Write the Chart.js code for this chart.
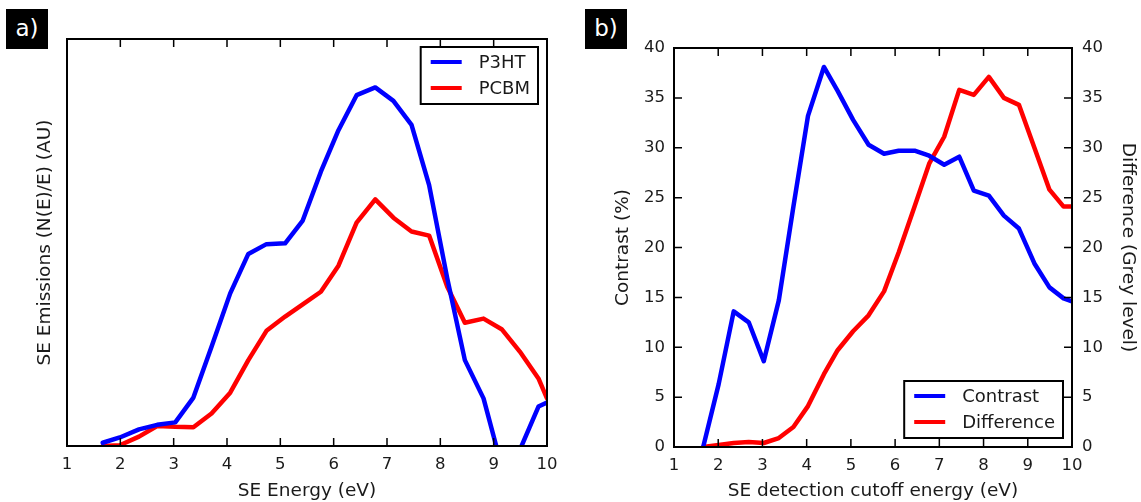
<!DOCTYPE html>
<html>
<head>
<meta charset="utf-8">
<script src="https://cdn.jsdelivr.net/npm/chart.js@4.4.0/dist/chart.umd.min.js"></script>
<style>
  body { margin: 0; background: #fff; width: 1141px; height: 502px; position: relative; overflow: hidden; font-family: "DejaVu Sans", sans-serif; }
  .painel { position: absolute; top: 0; height: 502px; }
  #pa { left: 0; width: 570px; }
  #pb { left: 570px; width: 571px; }
  .tag { position: absolute; top: 9px; width: 42px; height: 40px; background: #000; color: #fff; font-size: 23px; line-height: 38px; text-align: center; }
</style>
</head>
<body>
<div class="painel" id="pa"><canvas id="grafico-a" width="570" height="502"></canvas></div>
<div class="painel" id="pb"><canvas id="grafico-b" width="571" height="502"></canvas></div>
<div class="tag" style="left:6px">a)</div>
<div class="tag" style="left:585px">b)</div>
<script>
// painel a) - emissao SE (unidades arbitrarias)
const energiaA = [1.67, 1.99, 2.35, 2.69, 3.03, 3.37, 3.71, 4.06, 4.40, 4.74, 5.09, 5.42, 5.76,
                  6.09, 6.43, 6.78, 7.12, 7.46, 7.79, 8.13, 8.46, 8.81, 9.15, 9.49, 9.84, 10.0];
const p3ht = [0.8, 2.1, 4.1, 5.2, 5.8, 11.9, 24.4, 37.5, 47.2, 49.6, 49.8, 55.4, 67.4,
              77.6, 86.2, 88.1, 84.8, 78.9, 64.1, 41.2, 21.1, 11.7, -5.0, -1.0, 9.7, 10.7];
const pcbm = [0.0, 0.2, 2.3, 4.9, 4.7, 4.6, 8.0, 13.1, 21.1, 28.3, 31.8, 34.8, 37.9,
              44.3, 54.9, 60.6, 56.1, 52.7, 51.7, 39.1, 30.3, 31.3, 28.7, 23.2, 16.6, 11.7];

// painel b) - contraste e diferenca
const energiaB = [1.66, 2.01, 2.35, 2.69, 3.03, 3.37, 3.70, 4.03, 4.39, 4.70, 5.05, 5.40, 5.75,
                  6.08, 6.44, 6.77, 7.11, 7.45, 7.78, 8.12, 8.46, 8.80, 9.15, 9.49, 9.81, 10.0];
const contraste = [0.0, 6.3, 13.6, 12.5, 8.6, 14.7, 24.1, 33.2, 38.1, 35.7, 32.8, 30.3, 29.4,
                   29.7, 29.7, 29.2, 28.3, 29.1, 25.7, 25.2, 23.2, 21.9, 18.4, 16.0, 14.9, 14.6];
const diferenca = [0.0, 0.2, 0.4, 0.5, 0.4, 0.9, 2.0, 4.1, 7.3, 9.7, 11.6, 13.2, 15.6,
                   19.5, 24.1, 28.4, 31.1, 35.8, 35.3, 37.1, 35.0, 34.3, 30.0, 25.8, 24.1, 24.1];

const ticksX = [1, 2, 3, 4, 5, 6, 7, 8, 9, 10];
const ticksY = [0, 5, 10, 15, 20, 25, 30, 35, 40];

const fonte = '"DejaVu Sans", sans-serif';
const corTexto = '#1a1a1a';

// moldura preta e ticks para dentro (estilo matplotlib)
const moldura = {
  id: 'moldura',
  afterDatasetsDraw(chart, args, opts) {
    const { ctx, chartArea: a, scales } = chart;
    const t = 8;
    ctx.save();
    ctx.strokeStyle = '#000';
    ctx.lineWidth = 1.5;
    ctx.beginPath();
    scales.x.ticks.forEach(tk => {
      const px = scales.x.getPixelForValue(tk.value);
      ctx.moveTo(px, a.bottom); ctx.lineTo(px, a.bottom - t);
      ctx.moveTo(px, a.top); ctx.lineTo(px, a.top + t);
    });
    if (opts.ticksY) {
      scales.y.ticks.forEach(tk => {
        const py = scales.y.getPixelForValue(tk.value);
        ctx.moveTo(a.left, py); ctx.lineTo(a.left + t, py);
      });
      scales.y1.ticks.forEach(tk => {
        const py = scales.y1.getPixelForValue(tk.value);
        ctx.moveTo(a.right, py); ctx.lineTo(a.right - t, py);
      });
    }
    ctx.stroke();
    ctx.lineWidth = 2;
    ctx.strokeRect(a.left, a.top, a.width, a.height);
    ctx.restore();
  }
};

// legenda dentro da area do grafico
const legenda = {
  id: 'legenda',
  afterDraw(chart, args, o) {
    const { ctx, chartArea: a } = chart;
    const ds = chart.data.datasets;
    ctx.save();
    ctx.font = '18px ' + fonte;
    const tw = Math.max(...ds.map(d => ctx.measureText(d.label).width));
    const w = 58 + tw + 8, h = 57;
    const x0 = a.right - 9 - w;
    const y0 = o.canto === 'baixo' ? a.bottom - 9 - h : a.top + 8;
    ctx.fillStyle = '#fff';
    ctx.fillRect(x0, y0, w, h);
    ctx.lineWidth = 2;
    ctx.strokeStyle = '#000';
    ctx.strokeRect(x0, y0, w, h);
    ds.forEach((d, i) => {
      const y = y0 + 15 + i * 26;
      ctx.strokeStyle = d.borderColor;
      ctx.lineWidth = 4;
      ctx.beginPath(); ctx.moveTo(x0 + 10, y); ctx.lineTo(x0 + 41, y); ctx.stroke();
      ctx.fillStyle = corTexto;
      ctx.textBaseline = 'middle';
      ctx.fillText(d.label, x0 + 58, y + 1);
    });
    ctx.restore();
  }
};

function serie(xs, ys) {
  return xs.map((x, i) => ({ x: x, y: ys[i] }));
}

function eixoX(titulo, altura) {
  return {
    type: 'linear', min: 1, max: 10,
    afterBuildTicks: s => { s.ticks = ticksX.map(v => ({ value: v })); },
    afterFit: s => { s.height = altura; },
    grid: { display: false, drawTicks: false },
    border: { display: false },
    ticks: { padding: 9, color: corTexto, font: { family: fonte, size: 16.5 }, maxRotation: 0, autoSkip: false },
    title: { display: true, text: titulo, color: corTexto, font: { family: fonte, size: 18.5 }, padding: { top: 0, bottom: 0 } }
  };
}

const comuns = {
  responsive: false,
  animation: false,
  events: [],
  elements: { point: { radius: 0 }, line: { tension: 0, borderWidth: 4.5, borderJoinStyle: 'round', borderCapStyle: 'round' } }
};

new Chart(document.getElementById('grafico-a'), {
  type: 'line',
  data: {
    datasets: [
      { label: 'P3HT', data: serie(energiaA, p3ht), borderColor: '#0000ff', clip: 0 },
      { label: 'PCBM', data: serie(energiaA, pcbm), borderColor: '#ff0000', clip: 0 }
    ]
  },
  options: {
    ...comuns,
    layout: { padding: { left: 0, top: 39, right: 23, bottom: 0 } },
    plugins: { legend: { display: false }, tooltip: { enabled: false }, legenda: { canto: 'cima' }, moldura: { ticksY: false } },
    scales: {
      x: eixoX('SE Energy (eV)', 56),
      y: {
        min: 0, max: 100,
        afterFit: s => { s.width = 67; },
        ticks: { display: false },
        grid: { display: false, drawTicks: false },
        border: { display: false },
        title: { display: true, text: 'SE Emissions (N(E)/E) (AU)', color: corTexto, font: { family: fonte, size: 18.5 }, padding: { top: 34, bottom: 0 } }
      }
    }
  },
  plugins: [moldura, legenda]
});

function eixoY(titulo, lado, largura, pad, padTitulo) {
  return {
    position: lado, min: 0, max: 40,
    afterBuildTicks: s => { s.ticks = ticksY.map(v => ({ value: v })); },
    afterFit: s => { s.width = largura; },
    grid: { display: false, drawTicks: false },
    border: { display: false },
    ticks: { padding: pad, color: corTexto, font: { family: fonte, size: 16.5 } },
    title: { display: true, text: titulo, color: corTexto, font: { family: fonte, size: 18.5 }, padding: { top: padTitulo, bottom: 0 } }
  };
}

new Chart(document.getElementById('grafico-b'), {
  type: 'line',
  data: {
    datasets: [
      { label: 'Contrast', data: serie(energiaB, contraste), borderColor: '#0000ff', yAxisID: 'y', clip: 0 },
      { label: 'Difference', data: serie(energiaB, diferenca), borderColor: '#ff0000', yAxisID: 'y1', clip: 0 }
    ]
  },
  options: {
    ...comuns,
    layout: { padding: { left: 0, top: 48, right: 0, bottom: 0 } },
    plugins: { legend: { display: false }, tooltip: { enabled: false }, legenda: { canto: 'baixo' }, moldura: { ticksY: true } },
    scales: {
      x: eixoX('SE detection cutoff energy (eV)', 55),
      y: eixoY('Contrast (%)', 'left', 104, 9, 42),
      y1: eixoY('Difference (Grey level)', 'right', 69, 10, 2)
    }
  },
  plugins: [moldura, legenda]
});
</script>
</body>
</html>
